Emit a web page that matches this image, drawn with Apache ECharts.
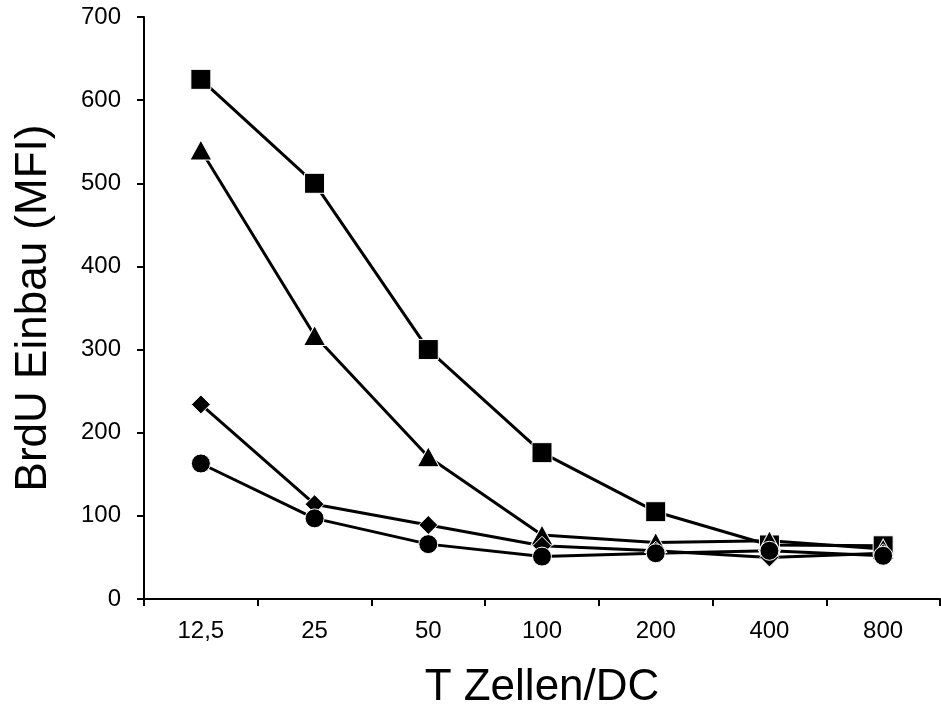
<!DOCTYPE html>
<html>
<head>
<meta charset="utf-8">
<script src="https://cdn.jsdelivr.net/npm/echarts@6/dist/echarts.min.js"></script>
<style>
  html, body { margin: 0; padding: 0; background: #fff; }
  #chart { width: 941px; height: 704px; }
</style>
</head>
<body>
<div id="chart"></div>
<script>
// T-cell : DC ratios
const categories = ['12,5', '25', '50', '100', '200', '400', '800'];

// BrdU incorporation (MFI) per condition
const squares   = [625, 500, 300, 176, 105, 65, 64];
const triangles = [540, 317, 171, 77, 68, 70, 60];
const diamonds  = [234, 114, 89, 64, 58, 50, 55];
const circles   = [163, 97, 66, 51, 55, 58, 52];

const yTicks = [0, 100, 200, 300, 400, 500, 600, 700];

const FONT = 'Liberation Sans, Arial, Helvetica, sans-serif';

function makeSeries(name, data, symbol, size) {
  return {
    name: name,
    type: 'line',
    data: data,
    symbol: symbol,
    symbolSize: size,
    showAllSymbol: true,
    lineStyle: { color: '#000', width: 3 },
    itemStyle: { color: '#000', borderColor: '#fff', borderWidth: 1 },
    emphasis: { disabled: true },
    animation: false
  };
}

const chart = echarts.init(document.getElementById('chart'), null, { renderer: 'canvas' });
chart.setOption({
  backgroundColor: '#fff',
  animation: false,
  grid: {
    left: 144, right: 1, top: 17, bottom: 105,
    containLabel: false,
    outerBoundsMode: 'none'
  },
  xAxis: {
    type: 'category',
    data: categories,
    boundaryGap: true,
    name: 'T Zellen/DC',
    nameLocation: 'middle',
    nameGap: 67,
    nameTextStyle: { fontFamily: FONT, fontSize: 44, color: '#000' },
    axisLine: { lineStyle: { color: '#000', width: 2 } },
    axisTick: { show: true, length: 7, inside: false, lineStyle: { color: '#000', width: 2 } },
    axisLabel: { fontFamily: FONT, fontSize: 24, color: '#000', margin: 20 },
    splitLine: { show: false }
  },
  yAxis: {
    type: 'value',
    min: yTicks[0],
    max: yTicks[yTicks.length - 1],
    interval: 100,
    name: 'BrdU Einbau (MFI)',
    nameLocation: 'middle',
    nameGap: 88,
    nameRotate: 90,
    nameTextStyle: { fontFamily: FONT, fontSize: 44, color: '#000' },
    axisLine: { show: true, lineStyle: { color: '#000', width: 2 } },
    axisTick: { show: true, length: 7, inside: false, lineStyle: { color: '#000', width: 2 } },
    axisLabel: { fontFamily: FONT, fontSize: 24, color: '#000', margin: 23 },
    splitLine: { show: false }
  },
  series: [
    makeSeries('Quadrat', squares, 'rect', 20),
    makeSeries('Dreieck', triangles, 'triangle', [22, 20]),
    makeSeries('Raute', diamonds, 'diamond', [19, 19]),
    makeSeries('Kreis', circles, 'circle', 19)
  ]
});
</script>
</body>
</html>
